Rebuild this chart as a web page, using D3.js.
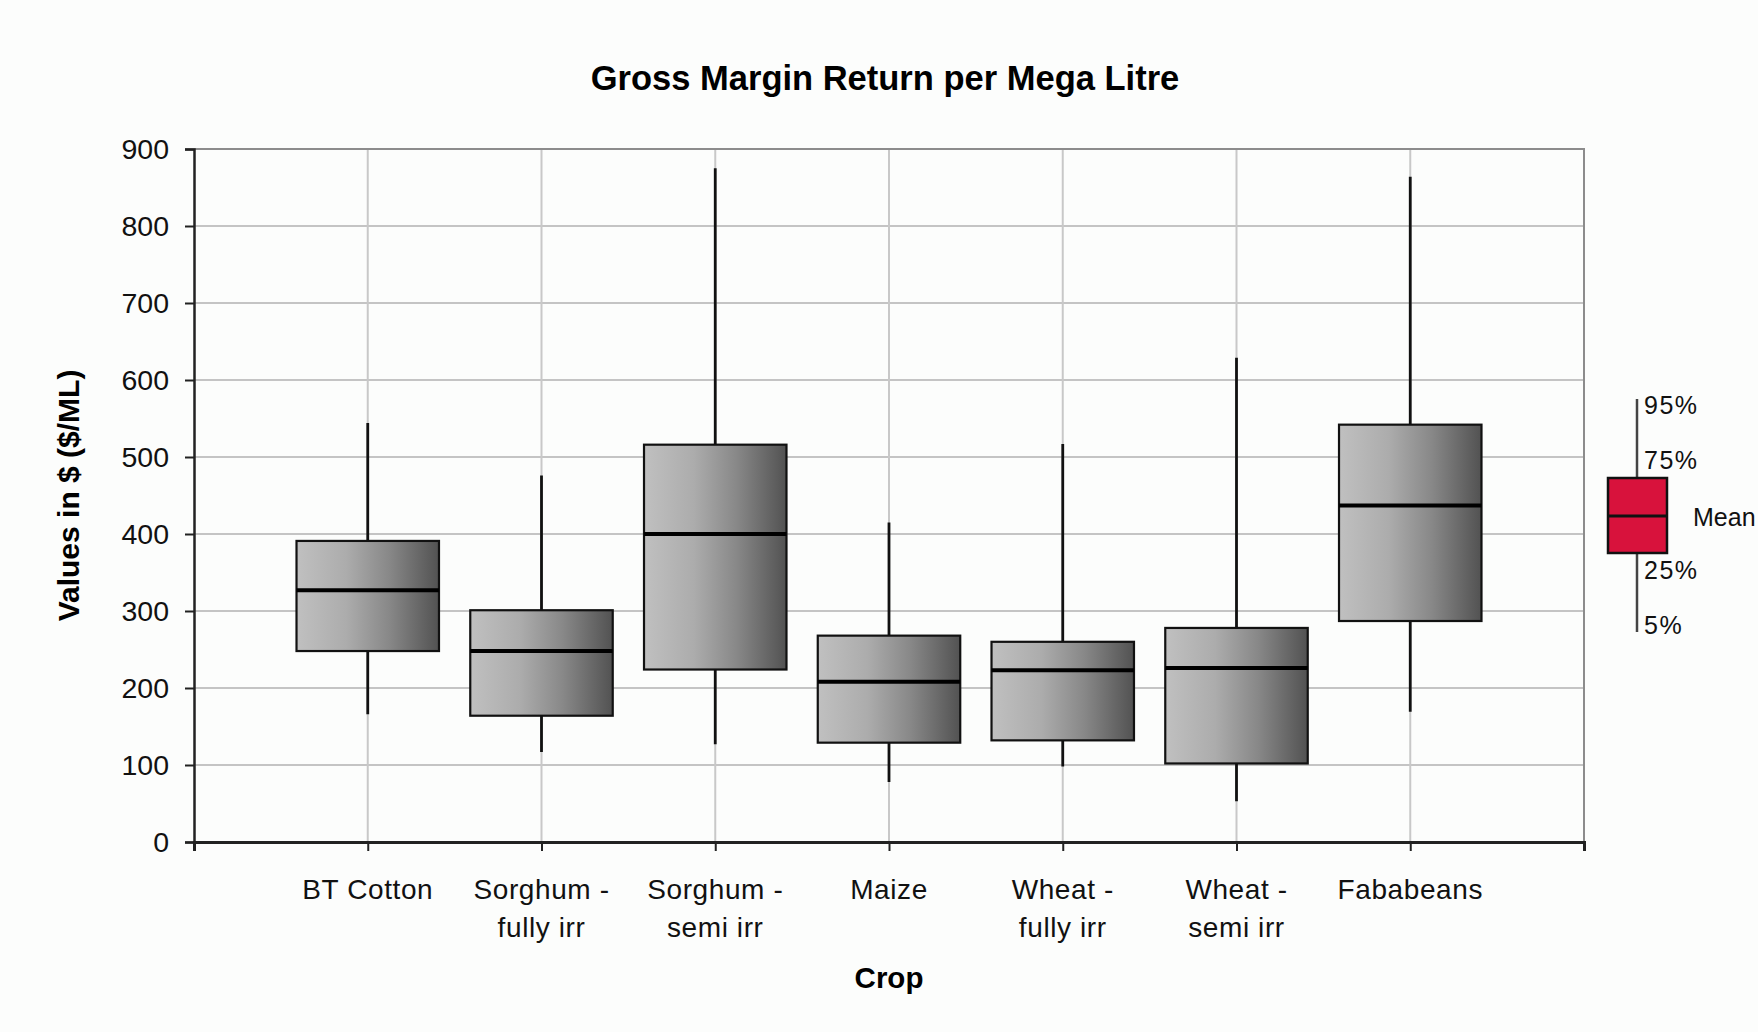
<!DOCTYPE html>
<html>
<head>
<meta charset="utf-8">
<script src="https://cdn.jsdelivr.net/npm/d3@7"></script>
<style>
  body { margin: 0; background: #fcfdfc; }
  svg { display: block; font-family: "Liberation Sans", Arial, sans-serif; }
</style>
</head>
<body>
<div id="chart"></div>
<script>
// Data
var crops = ["BT Cotton", "Sorghum - fully irr", "Sorghum - semi irr", "Maize", "Wheat - fully irr", "Wheat - semi irr", "Fababeans"];
var p5 = [166, 117, 127, 78, 98, 53, 169];
var p25 = [248, 164, 224, 129, 132, 102, 287];
var mean = [327, 248, 400, 208, 223, 226, 437];
var p75 = [391, 301, 516, 268, 260, 278, 542];
var p95 = [544, 476, 875, 415, 517, 629, 864];
var yTicks = [0, 100, 200, 300, 400, 500, 600, 700, 800, 900];

var svgWidth = 1758;
var svgHeight = 1032;
var margin = { top: 149, right: 174, bottom: 190, left: 194 };
var width = svgWidth - margin.left - margin.right;
var height = svgHeight - margin.top - margin.bottom;

var svg = d3.select('#chart')
    .append('svg')
    .attr('width', svgWidth)
    .attr('height', svgHeight);

var defs = svg.append('defs');
var grad = defs.append('linearGradient')
    .attr('id', 'boxFill')
    .attr('x1', '0%').attr('x2', '100%')
    .attr('y1', '0%').attr('y2', '0%');
grad.append('stop').attr('offset', '0%').attr('stop-color', '#c0c0c0');
grad.append('stop').attr('offset', '35%').attr('stop-color', '#acacac');
grad.append('stop').attr('offset', '65%').attr('stop-color', '#888888');
grad.append('stop').attr('offset', '100%').attr('stop-color', '#525252');

var chartGroup = svg.append('g')
    .attr('transform', `translate(${margin.left}, ${margin.top})`);

// Scales: categories sit on integer ticks 1..7 of a 0..8 axis
var xScale = d3.scaleLinear()
    .domain([0, crops.length + 1])
    .range([0, width]);
var yScale = d3.scaleLinear()
    .domain([0, 900])
    .range([height, 0]);

// Gridlines
chartGroup.append('g').selectAll('line')
    .data(yTicks.slice(1))
    .enter()
    .append('line')
    .attr('x1', 0).attr('x2', width)
    .attr('y1', d => yScale(d)).attr('y2', d => yScale(d))
    .attr('stroke', '#c4c4c4')
    .attr('stroke-width', 2);
chartGroup.append('g').selectAll('line')
    .data(d3.range(1, crops.length + 1))
    .enter()
    .append('line')
    .attr('x1', d => xScale(d)).attr('x2', d => xScale(d))
    .attr('y1', 0).attr('y2', height)
    .attr('stroke', '#c8c8c8')
    .attr('stroke-width', 2);

// Plot border (top / right)
chartGroup.append('path')
    .attr('d', `M0,0H${width}V${height}`)
    .attr('fill', 'none')
    .attr('stroke', '#8c8c8c')
    .attr('stroke-width', 2);

// Axes
var leftAxis = d3.axisLeft(yScale)
    .tickValues(yTicks)
    .tickSize(9)
    .tickPadding(16);
var yAxis = chartGroup.append('g').call(leftAxis);
yAxis.select('.domain').attr('stroke', '#222').attr('stroke-width', 2.5);
yAxis.selectAll('.tick line').attr('stroke', '#222').attr('stroke-width', 2);
yAxis.selectAll('.tick text')
    .attr('font-size', 28.5)
    .attr('fill', '#111')
    .attr('font-family', '"Liberation Sans", Arial, sans-serif');

var bottomAxis = d3.axisBottom(xScale)
    .ticks(crops.length + 1)
    .tickSize(9)
    .tickFormat('');
var xAxis = chartGroup.append('g')
    .attr('transform', `translate(0, ${height})`)
    .call(bottomAxis);
xAxis.select('.domain').attr('stroke', '#222').attr('stroke-width', 3);
xAxis.selectAll('.tick line').attr('stroke', '#222').attr('stroke-width', 2);

// Category labels (split on " - ")
var catLabels = chartGroup.append('g').selectAll('text')
    .data(crops)
    .enter()
    .append('text')
    .attr('text-anchor', 'middle')
    .attr('font-size', 28)
    .attr('letter-spacing', 0.6)
    .attr('fill', '#111')
    .attr('transform', (d, i) => `translate(${xScale(i + 1)}, ${height + 57})`);
catLabels.each(function(d) {
    var parts = d.split(' - ');
    var lines = parts.length > 1 ? [parts[0] + ' -', parts[1]] : [d];
    var t = d3.select(this);
    lines.forEach(function(line, j) {
        t.append('tspan').attr('x', 0).attr('y', j * 38).text(line);
    });
});

// Whiskers
chartGroup.append('g').selectAll('line')
    .data(crops)
    .enter()
    .append('line')
    .attr('x1', (d, i) => xScale(i + 1)).attr('x2', (d, i) => xScale(i + 1))
    .attr('y1', (d, i) => yScale(p5[i])).attr('y2', (d, i) => yScale(p95[i]))
    .attr('stroke', '#111')
    .attr('stroke-width', 2.8);

// Boxes
var halfBox = 0.41;
chartGroup.append('g').selectAll('rect')
    .data(crops)
    .enter()
    .append('rect')
    .attr('x', (d, i) => xScale(i + 1 - halfBox))
    .attr('width', (d, i) => xScale(i + 1 + halfBox) - xScale(i + 1 - halfBox))
    .attr('y', (d, i) => yScale(p75[i]))
    .attr('height', (d, i) => yScale(p25[i]) - yScale(p75[i]))
    .attr('fill', 'url(#boxFill)')
    .attr('stroke', '#111')
    .attr('stroke-width', 2.2);

// Mean lines
chartGroup.append('g').selectAll('line')
    .data(crops)
    .enter()
    .append('line')
    .attr('x1', (d, i) => xScale(i + 1 - halfBox)).attr('x2', (d, i) => xScale(i + 1 + halfBox))
    .attr('y1', (d, i) => yScale(mean[i])).attr('y2', (d, i) => yScale(mean[i]))
    .attr('stroke', '#000')
    .attr('stroke-width', 4);

// Titles
svg.append('text')
    .attr('x', 885)
    .attr('y', 90)
    .attr('text-anchor', 'middle')
    .attr('font-size', 34.5)
    .attr('font-weight', 'bold')
    .attr('fill', '#000')
    .text('Gross Margin Return per Mega Litre');

svg.append('text')
    .attr('transform', `translate(79, ${margin.top + height / 2}) rotate(-90)`)
    .attr('text-anchor', 'middle')
    .attr('font-size', 30)
    .attr('font-weight', 'bold')
    .attr('fill', '#000')
    .text('Values in $ ($/ML)');

svg.append('text')
    .attr('x', margin.left + width / 2)
    .attr('y', 988)
    .attr('text-anchor', 'middle')
    .attr('font-size', 29.5)
    .attr('font-weight', 'bold')
    .attr('fill', '#000')
    .text('Crop');

// Legend
var legend = svg.append('g').attr('transform', 'translate(1637, 0)');
legend.append('line')
    .attr('x1', 0).attr('x2', 0)
    .attr('y1', 399).attr('y2', 632)
    .attr('stroke', '#444')
    .attr('stroke-width', 2.5);
legend.append('rect')
    .attr('x', -29).attr('y', 478)
    .attr('width', 59).attr('height', 75)
    .attr('fill', '#d8123c')
    .attr('stroke', '#111')
    .attr('stroke-width', 2.5);
legend.append('line')
    .attr('x1', -29).attr('x2', 30)
    .attr('y1', 516).attr('y2', 516)
    .attr('stroke', '#111')
    .attr('stroke-width', 3);
var legendLabels = [["95%", 7, 414, 1.5], ["75%", 7, 469, 1.5], ["Mean", 56, 526, 0], ["25%", 7, 579, 1.5], ["5%", 7, 634, 1.5]];
legend.selectAll('text.lg')
    .data(legendLabels)
    .enter()
    .append('text')
    .attr('x', d => d[1])
    .attr('y', d => d[2])
    .attr('font-size', 25)
    .attr('letter-spacing', d => d[3])
    .attr('fill', '#111')
    .text(d => d[0]);
</script>
</body>
</html>
